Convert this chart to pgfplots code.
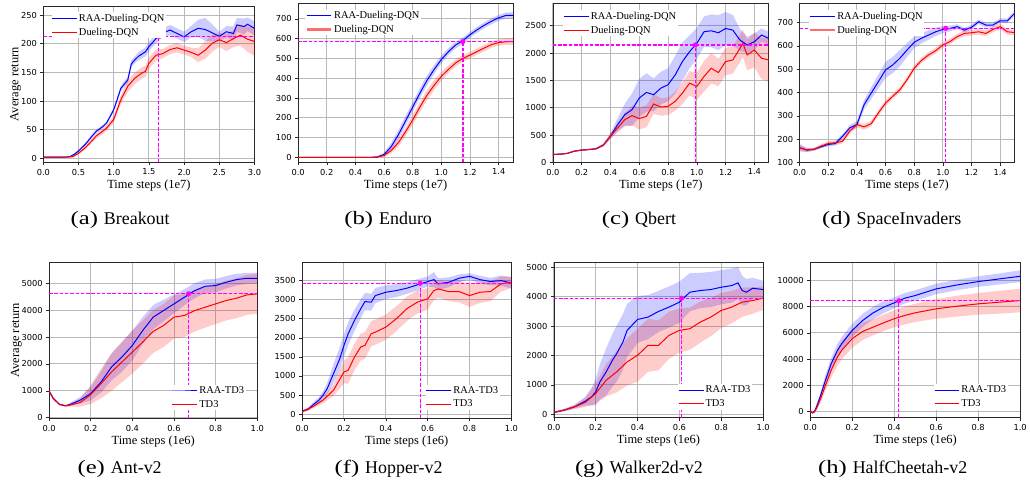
\documentclass[border=0pt]{standalone}
\usepackage{fontspec}
\setmainfont{Liberation Serif}
\newfontfamily\dejavu{DejaVu Sans}
\usepackage{pgfplots}
\usepackage{pgfplotstable}
\pgfplotsset{compat=1.18}
\usepgfplotslibrary{fillbetween}

% ---------------- data: x  mean  half-width ----------------
\pgfplotstableread{
x m s
0 2 1
0.1 2 1
0.2 2 1
0.3 2 1
0.38 3 1
0.45 8 2
0.5 13 2
0.6 25 3
0.7 40 3
0.75 47 3
0.85 56 3
0.9 62 3
1.0 85 4
1.05 103 4
1.1 122 5
1.2 137 6
1.25 165 6
1.3 172 6
1.35 178 7
1.45 186 8
1.5 195 8
1.6 209 8
1.7 219 8
1.8 224 9
1.9 218 9
2.0 212 9
2.1 221 10
2.2 227 15
2.3 225 20
2.4 219 15
2.5 213 8
2.6 221 10
2.7 218 12
2.75 233 12
2.85 230 14
2.9 234 12
3.0 227 12
}\tAb
\pgfplotstableread{
x m s
0 2 1
0.1 2 1
0.2 2 1
0.3 2 1
0.42 3 1
0.5 9 2
0.6 19 3
0.7 32 4
0.75 39 4
0.85 48 5
0.9 53 5
1.0 68 6
1.1 102 8
1.2 126 10
1.3 140 10
1.4 149 10
1.45 152 10
1.5 166 10
1.6 180 10
1.7 183 8
1.8 190 8
1.9 193 8
2.0 189 8
2.1 185 8
2.2 180 12
2.3 189 15
2.4 201 15
2.5 207 12
2.6 202 15
2.7 209 15
2.8 215 18
2.9 208 22
3.0 204 25
}\tAr
\pgfplotstableread{
x m s
0 0 2
0.1 0 2
0.2 0 2
0.3 0 2
0.4 0 2
0.5 0 2
0.55 2 3
0.6 15 10
0.65 55 18
0.7 115 22
0.75 185 25
0.8 255 25
0.85 325 25
0.9 390 25
0.95 445 22
1.0 495 20
1.05 535 18
1.1 568 17
1.15 590 16
1.2 620 15
1.25 645 15
1.3 668 15
1.35 688 15
1.4 705 15
1.45 717 15
1.5 717 15
}\tBb
\pgfplotstableread{
x m s
0 0 2
0.1 0 2
0.2 0 2
0.3 0 2
0.4 0 2
0.5 0 2
0.55 2 3
0.6 10 8
0.65 35 15
0.7 75 20
0.75 130 22
0.8 190 25
0.85 255 25
0.9 315 25
0.95 365 25
1.0 410 22
1.05 445 20
1.1 478 18
1.15 500 17
1.2 517 16
1.25 535 16
1.3 553 16
1.35 570 16
1.4 580 16
1.45 584 16
1.5 585 16
}\tBr
\pgfplotstableread{
x m s
0 146 10
0.05 150 10
0.1 164 10
0.15 206 12
0.2 225 12
0.25 235 12
0.3 249 15
0.35 315 25
0.4 479 50
0.45 692 120
0.5 874 200
0.55 965 300
0.6 1177 350
0.65 1280 350
0.7 1238 300
0.75 1359 300
0.8 1420 300
0.85 1602 350
0.9 1845 350
0.95 2027 300
1.0 2178 280
1.05 2391 280
1.1 2409 300
1.15 2373 320
1.2 2451 300
1.25 2421 280
1.3 2239 200
1.35 2148 150
1.4 2209 150
1.45 2330 120
1.5 2270 120
}\tCb
\pgfplotstableread{
x m s
0 146 10
0.05 150 10
0.1 164 10
0.15 206 12
0.2 225 12
0.25 235 12
0.3 249 15
0.35 315 25
0.4 479 50
0.45 631 80
0.5 783 120
0.55 856 180
0.6 801 200
0.65 843 200
0.7 1068 180
0.75 1013 160
0.8 1025 160
0.85 1117 170
0.9 1268 200
0.95 1450 220
1.0 1390 250
1.05 1572 280
1.1 1723 280
1.15 1644 250
1.2 1845 250
1.25 1875 250
1.3 2087 250
1.32 2180 250
1.35 1966 280
1.4 2057 320
1.45 1905 380
1.5 1875 400
}\tCr
\pgfplotstableread{
x m s
0 164 15
0.05 154 8
0.1 157 6
0.15 168 6
0.2 178 8
0.25 182 8
0.3 213 10
0.35 249 12
0.4 263 15
0.45 348 20
0.5 398 25
0.55 447 30
0.6 497 35
0.65 518 35
0.7 547 35
0.75 582 30
0.8 615 25
0.85 632 22
0.9 646 20
0.95 660 18
1.0 670 15
1.05 674 12
1.1 682 10
1.15 667 10
1.2 679 10
1.25 703 10
1.3 689 10
1.35 689 10
1.4 707 10
1.45 707 10
1.5 738 10
}\tDb
\pgfplotstableread{
x m s
0 164 15
0.05 154 8
0.1 157 6
0.15 171 8
0.2 182 8
0.25 185 10
0.3 192 10
0.35 235 12
0.4 263 12
0.45 253 12
0.5 267 12
0.55 313 12
0.6 355 12
0.65 384 12
0.7 412 12
0.75 455 12
0.8 504 12
0.85 537 12
0.9 561 12
0.95 579 12
1.0 604 12
1.05 618 12
1.1 639 12
1.15 653 12
1.2 656 12
1.25 660 12
1.3 653 12
1.35 670 12
1.4 682 12
1.45 660 12
1.5 657 12
}\tDr
\pgfplotstableread{
x m s
0 988 50
0.02 716 40
0.05 494 30
0.08 444 30
0.1 494 50
0.15 654 120
0.2 901 250
0.25 1333 400
0.3 1889 500
0.35 2259 550
0.4 2691 550
0.45 3247 500
0.5 3741 450
0.55 3988 400
0.6 4235 350
0.65 4481 300
0.7 4728 280
0.75 4889 250
0.8 4914 250
0.85 5037 230
0.9 5136 220
0.95 5185 200
1.0 5185 200
}\tEb
\pgfplotstableread{
x m s
0 988 50
0.02 716 40
0.05 494 30
0.08 444 30
0.1 469 60
0.15 568 150
0.2 864 350
0.25 1272 550
0.3 1704 700
0.35 2074 750
0.4 2444 800
0.45 2815 800
0.5 3210 800
0.55 3432 800
0.6 3741 800
0.65 3802 800
0.7 3988 780
0.75 4111 760
0.8 4235 750
0.85 4358 740
0.9 4444 740
0.95 4568 740
1.0 4605 740
}\tEr
\pgfplotstableread{
x m s
0 78 30
0.03 131 40
0.05 235 60
0.08 366 80
0.1 496 100
0.12 670 150
0.15 1062 250
0.18 1454 300
0.2 1802 300
0.22 2107 300
0.25 2455 280
0.28 2760 250
0.3 2951 230
0.33 2934 220
0.35 3108 200
0.4 3195 180
0.45 3239 170
0.5 3300 150
0.55 3387 150
0.6 3474 130
0.63 3526 200
0.65 3413 150
0.7 3456 130
0.75 3561 100
0.8 3613 80
0.85 3526 100
0.9 3474 100
0.95 3500 130
1.0 3439 150
}\tFb
\pgfplotstableread{
x m s
0 61 30
0.05 192 50
0.1 366 80
0.15 627 150
0.2 1106 300
0.22 1149 350
0.25 1497 350
0.28 1759 350
0.3 1802 350
0.33 2107 330
0.35 2150 330
0.4 2281 330
0.45 2499 330
0.5 2760 320
0.55 2934 300
0.6 3021 280
0.63 3239 250
0.65 3282 230
0.7 3213 250
0.75 3213 280
0.8 3108 300
0.85 3195 280
0.9 3213 250
0.95 3413 200
1.0 3456 150
}\tFr
\pgfplotstableread{
x m s
0 68 30
0.05 147 40
0.1 260 60
0.15 451 150
0.18 598 300
0.2 767 450
0.22 1106 600
0.25 1445 800
0.28 1840 900
0.3 2065 950
0.33 2460 950
0.35 2856 900
0.38 3081 850
0.4 3228 800
0.45 3307 750
0.5 3499 700
0.55 3646 700
0.6 3815 700
0.65 4153 650
0.7 4210 600
0.75 4244 600
0.8 4323 580
0.85 4379 580
0.88 4470 550
0.9 4210 500
0.92 4153 450
0.95 4289 350
1.0 4244 300
}\tGb
\pgfplotstableread{
x m s
0 68 30
0.05 147 40
0.1 260 80
0.15 406 150
0.2 711 350
0.25 1162 550
0.3 1445 700
0.35 1783 800
0.4 2009 900
0.45 2348 900
0.5 2348 850
0.55 2686 800
0.6 2856 750
0.65 2912 720
0.7 3138 700
0.75 3307 650
0.8 3533 600
0.85 3646 550
0.9 3815 500
0.95 3871 450
1.0 3950 400
}\tGr
\pgfplotstableread{
x m s
0 25 80
0.01 -100 80
0.02 -25 100
0.03 355 150
0.05 1244 250
0.07 2259 350
0.1 3655 450
0.13 4670 500
0.15 5178 500
0.2 6193 500
0.25 6954 500
0.3 7538 480
0.35 7970 450
0.4 8299 420
0.45 8655 400
0.5 8858 400
0.55 9112 400
0.6 9365 400
0.7 9670 400
0.8 9924 400
0.9 10127 420
1.0 10330 450
}\tHb
\pgfplotstableread{
x m s
0 25 80
0.01 -100 80
0.02 -25 100
0.03 228 150
0.05 990 300
0.07 1878 400
0.1 3147 550
0.13 4162 650
0.15 4670 700
0.2 5558 700
0.25 6117 650
0.3 6447 620
0.35 6777 620
0.4 7081 650
0.45 7335 680
0.5 7538 700
0.6 7843 750
0.7 8046 800
0.8 8223 830
0.9 8350 870
1.0 8477 900
}\tHr

\definecolor{mblue}{RGB}{0,0,255}
\definecolor{mred}{RGB}{255,0,0}
\definecolor{mmag}{RGB}{255,0,255}
\definecolor{mgrid}{RGB}{185,185,185}
\definecolor{mframe}{RGB}{40,40,40}
\definecolor{mpink}{RGB}{255,110,110}

\pgfplotsset{
  rl/.style={
    scale only axis,
    axis line style={draw=mframe, line width=0.7pt},
    grid=major,
    grid style={draw=mgrid, line width=1pt},
    tick pos=left,
    tick align=outside,
    major tick length=3pt,
    tick style={draw=mframe, line width=0.6pt},
    scaled x ticks=false, scaled y ticks=false,
    /pgf/number format/assume math mode=true,
    /pgf/number format/1000 sep={},
    tick label style={font=\dejavu\fontsize{8.3}{10}\selectfont},
    xticklabel style={/pgf/number format/fixed, /pgf/number format/fixed zerofill, /pgf/number format/precision=1},
    label style={font=\fontsize{12.5}{14}\selectfont},
    xlabel style={yshift=2pt},
    ylabel shift=-7pt,
    legend style={draw=none, font=\fontsize{10.5}{12}\selectfont,
      inner sep=0pt, row sep=2.3pt, nodes={inner sep=1.5pt}},
    legend cell align=left,
    legend image code/.code={\path[##1] (0pt,0pt) -- (12.5pt,0pt) -- (25pt,0pt);},
  }
}

\newcommand{\mband}[3]{%
  \addplot[draw=none, forget plot, name path=#3u] table[x=x, y expr=\thisrow{m}+\thisrow{s}] {#1};
  \addplot[draw=none, forget plot, name path=#3l] table[x=x, y expr=\thisrow{m}-\thisrow{s}] {#1};
  \addplot[fill=#2, fill opacity=0.2, draw=none, forget plot] fill between[of=#3u and #3l];
}
% args: xmin, xmax, x of dot, y of dot, ymin, midpoint of vertical line
\newcommand{\magl}[6]{%
  \addplot[color=mmag, draw=mmag, fill=mmag, line width=1.2pt, dash pattern=on 3.5pt off 1.8pt, forget plot] table[row sep=\\] {x y\\ #1 #4\\ #3 #4\\ #2 #4\\};
  \addplot[color=mmag, draw=mmag, fill=mmag, line width=1.2pt, dash pattern=on 3.5pt off 1.8pt, forget plot] table[row sep=\\] {x y\\ #3 #5\\ #3 #6\\ #3 #4\\};
  \addplot[draw=none, only marks, mark=*, mark size=2.3pt, mark options={draw=mmag, fill=mmag}, forget plot] table[row sep=\\] {x y\\ #3 #4\\};
}
\newcommand{\mlines}[5]{%
  \addplot[draw=mblue, line width=1pt, forget plot] table[x=x, y=m] {#1};
  \addplot[draw=mred, line width=1pt, forget plot] table[x=x, y=m] {#2};
  \addlegendimage{color=mblue, draw=mblue, fill=mblue, line width=1pt}
  \addlegendentry{#3}
  \addlegendimage{#5}
  \addlegendentry{#4}
}

\begin{document}
\begin{tikzpicture}

% (a) Breakout
\begin{axis}[rl, at={(43.5pt,321pt)}, anchor=south west, width=212pt, height=157pt,
  xmin=0, xmax=3, ymin=-7, ymax=266, xtick={0,0.5,1,1.5,2,2.5,3}, ytick={0,50,100,150,200,250},
  xlabel={Time steps (1e7)}, ylabel={Average return},
  legend style={at={(0.038,0.96)}, anchor=north west}]
\mband{\tAb}{mblue}{ab}
\mband{\tAr}{mred}{ar}
\mlines{\tAb}{\tAr}{RAA-Dueling-DQN}{Dueling-DQN}{color=mred, draw=mred, fill=mred, line width=1pt}
\magl{0}{3}{1.64}{213}{-7}{103}
\end{axis}

% (b) Enduro
\begin{axis}[rl, at={(299.3pt,321pt)}, anchor=south west, width=215.7pt, height=160pt,
  xmin=0, xmax=1.5, ymin=-25, ymax=780, xtick={0,0.2,0.4,0.6,0.8,1.0,1.2,1.4}, ytick={0,100,...,700},
  xlabel={Time steps (1e7)},
  legend style={at={(0.033,0.96)}, anchor=north west}]
\mband{\tBb}{mblue}{bb}
\mband{\tBr}{mred}{br}
\mlines{\tBb}{\tBr}{RAA-Dueling-DQN}{Dueling-DQN}{color=mpink, draw=mpink, fill=mpink, line width=2.2pt}
\magl{0}{1.5}{1.15}{585}{-25}{280}
\end{axis}

% (c) Qbert
\begin{axis}[rl, at={(555pt,321pt)}, anchor=south west, width=216.7pt, height=159.7pt,
  xmin=0, xmax=1.5, ymin=0, ymax=2912, xtick={0,0.2,0.4,0.6,0.8,1.0,1.2,1.4}, ytick={0,500,...,2500},
  xlabel={Time steps (1e7)},
  legend style={at={(0.048,0.956)}, anchor=north west}]
\mband{\tCb}{mblue}{cb}
\mband{\tCr}{mred}{cr}
\mlines{\tCb}{\tCr}{RAA-Dueling-DQN}{Dueling-DQN}{color=mred, draw=mred, fill=mred, line width=1pt}
\magl{0}{1.5}{0.99}{2150}{0}{1075}
\end{axis}

% (d) SpaceInvaders
\begin{axis}[rl, at={(802.7pt,320.7pt)}, anchor=south west, width=215.6pt, height=160pt,
  xmin=0, xmax=1.5, ymin=100, ymax=782, xtick={0,0.2,0.4,0.6,0.8,1.0,1.2,1.4}, ytick={100,200,...,700},
  xlabel={Time steps (1e7)},
  legend style={at={(0.041,0.956)}, anchor=north west}]
\mband{\tDb}{mblue}{db}
\mband{\tDr}{mred}{dr}
\mlines{\tDb}{\tDr}{RAA-Dueling-DQN}{Dueling-DQN}{color=mpink, draw=mpink, fill=mpink, line width=2.2pt}
\magl{0}{1.5}{1.02}{675}{100}{387.5}
\end{axis}

% (e) Ant-v2
\begin{axis}[rl, at={(49.3pt,64pt)}, anchor=south west, width=209pt, height=156.7pt,
  xmin=0, xmax=1, ymin=-25, ymax=5780, xtick={0,0.2,0.4,0.6,0.8,1.0}, ytick={0,1000,...,5000},
  xlabel={Time steps (1e6)}, ylabel={Average return},
  legend style={at={(0.589,0.05)}, anchor=south west}]
\mband{\tEb}{mblue}{eb}
\mband{\tEr}{mred}{er}
\mlines{\tEb}{\tEr}{RAA-TD3}{TD3}{color=mred, draw=mred, fill=mred, line width=1pt}
\magl{0}{1}{0.67}{4610}{-25}{2292.5}
\end{axis}

% (f) Hopper-v2
\begin{axis}[rl, at={(303.3pt,64pt)}, anchor=south west, width=210pt, height=156.7pt,
  xmin=0, xmax=1, ymin=-112, ymax=3980, xtick={0,0.2,0.4,0.6,0.8,1.0}, ytick={0,500,...,3500},
  xlabel={Time steps (1e6)},
  legend style={at={(0.591,0.053)}, anchor=south west}]
\mband{\tFb}{mblue}{fb}
\mband{\tFr}{mred}{fr}
\mlines{\tFb}{\tFr}{RAA-TD3}{TD3}{color=mred, draw=mred, fill=mred, line width=1pt}
\magl{0}{1}{0.564}{3430}{-112}{1659}
\end{axis}

% (g) Walker2d-v2
\begin{axis}[rl, at={(556pt,64.7pt)}, anchor=south west, width=210pt, height=156pt,
  xmin=0, xmax=1, ymin=-113, ymax=5170, xtick={0,0.2,0.4,0.6,0.8,1.0}, ytick={0,1000,...,5000},
  xlabel={Time steps (1e6)},
  legend style={at={(0.593,0.051)}, anchor=south west}]
\mband{\tGb}{mblue}{gb}
\mband{\tGr}{mred}{gr}
\mlines{\tGb}{\tGr}{RAA-TD3}{TD3}{color=mred, draw=mred, fill=mred, line width=1pt}
\magl{0}{1}{0.61}{3950}{-113}{1918.5}
\end{axis}

% (h) HalfCheetah-v2
\begin{axis}[rl, at={(813.3pt,64.7pt)}, anchor=south west, width=210.7pt, height=156pt,
  xmin=0, xmax=1, ymin=-480, ymax=11400, xtick={0,0.2,0.4,0.6,0.8,1.0}, ytick={0,2000,...,10000},
  xlabel={Time steps (1e6)},
  legend style={at={(0.589,0.051)}, anchor=south west}]
\mband{\tHb}{mblue}{hb}
\mband{\tHr}{mred}{hr}
\mlines{\tHb}{\tHr}{RAA-TD3}{TD3}{color=mred, draw=mred, fill=mred, line width=1pt}
\magl{0}{1}{0.4225}{8460}{-480}{3990}
\end{axis}

% captions
\newcommand{\lab}[1]{{\fontsize{19}{20}\selectfont\scalebox{1.3}[1]{(#1)}}\hspace{6pt}}
\begin{scope}[every node/.style={anchor=base west, inner sep=0pt, font=\fontsize{18}{20}\selectfont}]
\node at (70.7pt,259pt) {\lab{a}Breakout};
\node at (345.6pt,259pt) {\lab{b}Enduro};
\node at (604pt,259pt) {\lab{c}Qbert};
\node at (825pt,259pt) {\lab{d}SpaceInvaders};
\node at (77.7pt,9pt) {\lab{e}Ant-v2};
\node at (335.7pt,9pt) {\lab{f}Hopper-v2};
\node at (577pt,9pt) {\lab{g}Walker2d-v2};
\node at (821pt,9pt) {\lab{h}HalfCheetah-v2};
\end{scope}
\path (0pt,0pt) rectangle (1030pt,484pt);
\end{tikzpicture}
\end{document}
